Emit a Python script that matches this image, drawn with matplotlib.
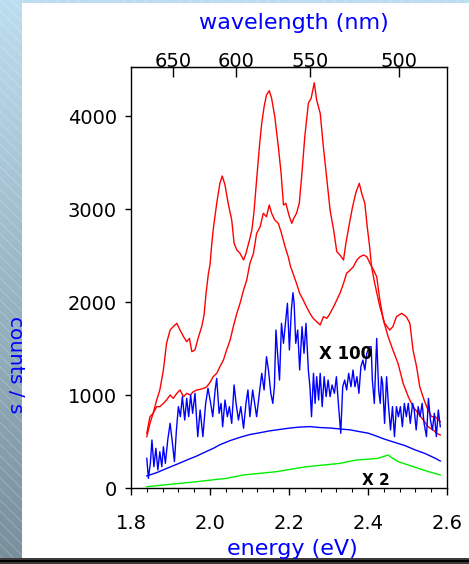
import numpy as np
import matplotlib
matplotlib.use("Agg")
import matplotlib.pyplot as plt
from matplotlib.patches import Rectangle
from matplotlib.ticker import MultipleLocator, FixedLocator

# ---------------- data ----------------
redA_E = [1.840, 1.848, 1.856, 1.865, 1.873, 1.882, 1.886, 1.890, 1.899, 1.907, 1.916, 1.924, 1.933, 1.941,
          1.948, 1.954, 1.962, 1.971, 1.979, 1.985, 1.990, 1.996, 2.000, 2.004, 2.008, 2.017, 2.025, 2.031,
          2.038, 2.046, 2.055, 2.061, 2.068, 2.076, 2.085, 2.091, 2.100, 2.106, 2.111, 2.118, 2.125, 2.131,
          2.137, 2.143, 2.150, 2.156, 2.164, 2.173, 2.180, 2.186, 2.192, 2.201, 2.207, 2.212, 2.219, 2.226,
          2.232, 2.240, 2.249, 2.256, 2.264, 2.270, 2.279, 2.287, 2.296, 2.304, 2.313, 2.321, 2.329, 2.338,
          2.344, 2.353, 2.361, 2.370, 2.378, 2.384, 2.392, 2.398, 2.404, 2.409, 2.417, 2.430, 2.442, 2.455,
          2.463, 2.472, 2.485, 2.497, 2.506, 2.514, 2.523, 2.531, 2.542, 2.552, 2.561, 2.570, 2.583]
redA_c = [552, 695, 803, 946, 1054, 1269, 1412, 1556, 1699, 1735, 1771, 1699, 1627, 1573,
          1609, 1466, 1484, 1627, 1735, 1860, 2093, 2309, 2400, 2600, 2774, 3061, 3276, 3355,
          3258, 3061, 2882, 2631, 2559, 2523, 2452, 2523, 2667, 2774, 2954, 3312, 3670, 3922,
          4100, 4226, 4272, 4190, 3993, 3670, 3384, 3043, 3061, 2917, 2846, 2900, 2954, 3061,
          3348, 3778, 4137, 4190, 4358, 4172, 4029, 3670, 3312, 2989, 2774, 2541, 2505, 2452,
          2631, 2846, 3025, 3186, 3276, 3169, 3061, 2810, 2600, 2380, 2201, 1950, 1771, 1699,
          1735, 1842, 1878, 1842, 1771, 1484, 1304, 1089, 946, 839, 767, 767, 713]

redB_E = [1.840, 1.848, 1.856, 1.865, 1.873, 1.882, 1.890, 1.899, 1.907, 1.916, 1.924, 1.933, 1.941, 1.950,
          1.958, 1.967, 1.975, 1.984, 1.992, 2.000, 2.008, 2.017, 2.025, 2.034, 2.042, 2.051, 2.059, 2.068,
          2.076, 2.085, 2.093, 2.101, 2.110, 2.118, 2.127, 2.135, 2.143, 2.150, 2.156, 2.164, 2.173, 2.181,
          2.190, 2.198, 2.204, 2.210, 2.219, 2.227, 2.236, 2.244, 2.253, 2.261, 2.270, 2.279, 2.287, 2.296,
          2.304, 2.313, 2.321, 2.329, 2.338, 2.346, 2.355, 2.363, 2.372, 2.380, 2.389, 2.397, 2.405, 2.414,
          2.422, 2.430, 2.439, 2.451, 2.463, 2.476, 2.489, 2.502, 2.514, 2.527, 2.540, 2.552, 2.565, 2.574,
          2.583]
redB_c = [588, 767, 803, 875, 875, 910, 946, 1000, 964, 1018, 1054, 982, 1018, 1000,
          1036, 1054, 1061, 1072, 1089, 1135, 1197, 1233, 1304, 1376, 1484, 1591, 1735, 1878,
          1986, 2129, 2237, 2416, 2523, 2738, 2810, 2954, 2917, 3043, 2954, 2882, 2846, 2738,
          2595, 2487, 2380, 2309, 2201, 2093, 2022, 1950, 1878, 1825, 1789, 1753, 1842, 1825,
          1878, 1950, 2022, 2093, 2201, 2309, 2344, 2380, 2452, 2487, 2505, 2487, 2416, 2344,
          2272, 2022, 1806, 1627, 1484, 1340, 1125, 982, 875, 803, 731, 659, 624, 588,
          570]

blueN_E = [1.840, 1.844, 1.849, 1.853, 1.858, 1.863, 1.868, 1.873, 1.878, 1.882, 1.887, 1.893, 1.899, 1.904,
           1.910, 1.915, 1.920, 1.925, 1.930, 1.936, 1.941, 1.946, 1.951, 1.956, 1.962, 1.969, 1.975, 1.982,
           1.989, 1.995, 2.001, 2.007, 2.013, 2.017, 2.023, 2.028, 2.032, 2.038, 2.044, 2.049, 2.055, 2.061,
           2.066, 2.072, 2.078, 2.085, 2.091, 2.096, 2.101, 2.108, 2.113, 2.118, 2.125, 2.131, 2.137, 2.143,
           2.148, 2.154, 2.159, 2.163, 2.167, 2.171, 2.176, 2.181, 2.186, 2.191, 2.196, 2.201, 2.206, 2.210,
           2.213, 2.217, 2.222, 2.227, 2.233, 2.238, 2.243, 2.249, 2.253, 2.257, 2.262, 2.266, 2.270, 2.275,
           2.279, 2.284, 2.289, 2.294, 2.299, 2.304, 2.309, 2.315, 2.320, 2.325, 2.331, 2.336, 2.341, 2.346,
           2.351, 2.357, 2.362, 2.367, 2.372, 2.377, 2.382, 2.387, 2.392, 2.397, 2.403, 2.408, 2.411, 2.416,
           2.422, 2.427, 2.431, 2.434, 2.437, 2.442, 2.447, 2.452, 2.457, 2.462, 2.467, 2.472, 2.477, 2.482,
           2.487, 2.492, 2.497, 2.502, 2.507, 2.513, 2.517, 2.522, 2.527, 2.532, 2.537, 2.542, 2.548, 2.553,
           2.558, 2.563, 2.568, 2.573, 2.578, 2.583]
blueN_c = [319, 104, 265, 516, 229, 427, 194, 390, 229, 444, 265, 516, 695, 516,
           283, 624, 875, 767, 982, 731, 964, 767, 1000, 803, 1018, 552, 839, 552,
           910, 1072, 930, 767, 1054, 1179, 803, 910, 659, 946, 767, 875, 695, 1108,
           910, 731, 875, 642, 910, 1054, 767, 1054, 910, 767, 1018, 1233, 1054, 1412,
           1269, 1018, 910, 1089, 1699, 1448, 1161, 1771, 1556, 1771, 1986, 1484, 1914, 2100,
           1986, 1556, 1699, 1269, 1735, 1448, 1771, 1269, 1089, 767, 1233, 910, 1197, 946,
           1233, 875, 1197, 982, 1161, 982, 1108, 1018, 1197, 910, 588, 1089, 1161, 1054,
           1233, 1089, 1269, 1089, 1197, 1018, 1304, 1376, 1269, 1448, 1519, 1519, 1161, 910,
           1609, 1054, 910, 1197, 1126, 695, 1197, 875, 624, 875, 552, 875, 767, 875,
           659, 910, 767, 910, 695, 910, 839, 624, 875, 767, 910, 695, 552, 964,
           731, 624, 803, 552, 839, 659]

blueS_E = [1.840, 1.865, 1.890, 1.916, 1.941, 1.967, 1.992, 2.010, 2.025, 2.051, 2.076, 2.101, 2.127, 2.152,
           2.177, 2.203, 2.227, 2.253, 2.279, 2.304, 2.329, 2.355, 2.380, 2.400, 2.417, 2.442, 2.468, 2.494,
           2.519, 2.545, 2.570, 2.583]
blueS_c = [130, 165, 210, 255, 300, 345, 395, 430, 465, 510, 545, 575, 595, 615,
           630, 645, 655, 660, 650, 645, 635, 625, 605, 590, 565, 525, 490, 455,
           410, 370, 320, 290]

green_E = [1.840, 1.882, 1.924, 1.967, 2.004, 2.042, 2.085, 2.127, 2.169, 2.207, 2.244, 2.287, 2.329, 2.371,
           2.400, 2.426, 2.440, 2.451, 2.462, 2.477, 2.502, 2.527, 2.553, 2.583]
green_c = [14, 32, 50, 68, 86, 104, 140, 158, 176, 203, 229, 247, 265, 301,
           310, 319, 340, 355, 320, 283, 247, 212, 176, 140]

y_ticks = [0, 1000, 2000, 3000, 4000]
x_ticks = [1.8, 2.0, 2.2, 2.4, 2.6]
wl_ticks = [650, 600, 550, 500]

# ---------------- figure ----------------
plt.rcParams['font.family'] = ['DejaVu Sans']
plt.rcParams['hatch.linewidth'] = 0.5
W, H = 469, 564
fig = plt.figure(figsize=(W / 100, H / 100), dpi=100)

# background: gradient blue strip with hatching
bg = fig.add_axes([0, 0, 1, 1], zorder=-10)
bg.set_axis_off()
grad = np.linspace(0, 1, 256)[:, None]
top_col = np.array([0.74, 0.87, 0.94])
bot_col = np.array([0.47, 0.56, 0.61])
img = top_col[None, None, :] * (1 - grad[:, :, None]) + bot_col[None, None, :] * grad[:, :, None]
bg.imshow(img, extent=[0, 1, 0, 1], aspect='auto', transform=bg.transAxes)
bg.add_patch(Rectangle((0, 0), 1, 1, transform=bg.transAxes, fill=False,
                       hatch='\\\\\\', edgecolor=(1, 1, 1, 0.3), linewidth=0))
bg.add_patch(Rectangle((22 / W, 1 - 558 / H), 1 - 22 / W, (558 - 3) / H, transform=bg.transAxes,
                       facecolor='white', edgecolor='none'))
bg.add_patch(Rectangle((0, 0), 1, (564 - 558) / H, transform=bg.transAxes,
                       facecolor='#3a3a3a', edgecolor='none'))
bg.add_patch(Rectangle((0, (564 - 562) / H), 1, 2 / H, transform=bg.transAxes,
                       facecolor='black', edgecolor='none'))
bg.set_xlim(0, 1)
bg.set_ylim(0, 1)

ax = fig.add_axes([131 / W, 1 - 488 / H, (447 - 131) / W, (488 - 67) / H])
ax.set_facecolor('none')
lw = 1.0
ax.plot(redA_E, redA_c, color='#ff0000', lw=lw)
ax.plot(redB_E, redB_c, color='#ff0000', lw=lw)
ax.plot(blueN_E, blueN_c, color='#0000ff', lw=lw)
ax.plot(blueS_E, blueS_c, color='#0000ff', lw=lw)
ax.plot(green_E, green_c, color='#00ee00', lw=lw)

ax.set_xlim(1.8, 2.6)
ax.set_ylim(0, 4527)
ax.xaxis.set_major_locator(FixedLocator(x_ticks))
ax.xaxis.set_minor_locator(MultipleLocator(0.04))
ax.yaxis.set_major_locator(FixedLocator(y_ticks))
ax.set_xticklabels([f"{v:.1f}" for v in x_ticks])
ax.set_yticklabels([str(v) for v in y_ticks])
ax.tick_params(axis='x', which='major', direction='out', length=5, width=1, labelsize=14, pad=14,
               top=False)
ax.tick_params(axis='x', which='minor', direction='out', length=3, width=0.8, top=False)
ax.tick_params(axis='y', which='major', direction='out', length=4, width=1, labelsize=14, pad=6,
               right=False)
for s in ax.spines.values():
    s.set_color('black')
    s.set_linewidth(1.0)

conv = lambda x: 1239.84 / np.asarray(x, dtype=float)
sec = ax.secondary_xaxis('top', functions=(conv, conv))
sec.xaxis.set_major_locator(FixedLocator(wl_ticks))
sec.set_xticklabels([str(v) for v in wl_ticks])
sec.tick_params(axis='x', which='major', direction='in', length=7, width=1, labelsize=14, pad=-3)
sec.xaxis.set_minor_locator(FixedLocator([]))

ax.text(2.342, 1441, 'X 100', fontsize=12, fontweight='bold', ha='center', va='center', color='black',
        zorder=5)
ax.text(2.420, 86, 'X 2', fontsize=11, fontweight='bold', ha='center', va='center', color='black',
        zorder=5)

fig.text(294 / W, 1 - 23 / H, 'wavelength (nm)', color='#0000ff', fontsize=16, ha='center', va='center')
fig.text(292 / W, 1 - 549 / H, 'energy (eV)', color='#0000ff', fontsize=16, ha='center', va='center')
fig.text(15 / W, 1 - 365 / H, 'counts / s', color='#0000ff', fontsize=14.5, ha='center', va='center',
         rotation=270)

fig.savefig('out.png', dpi=100)
